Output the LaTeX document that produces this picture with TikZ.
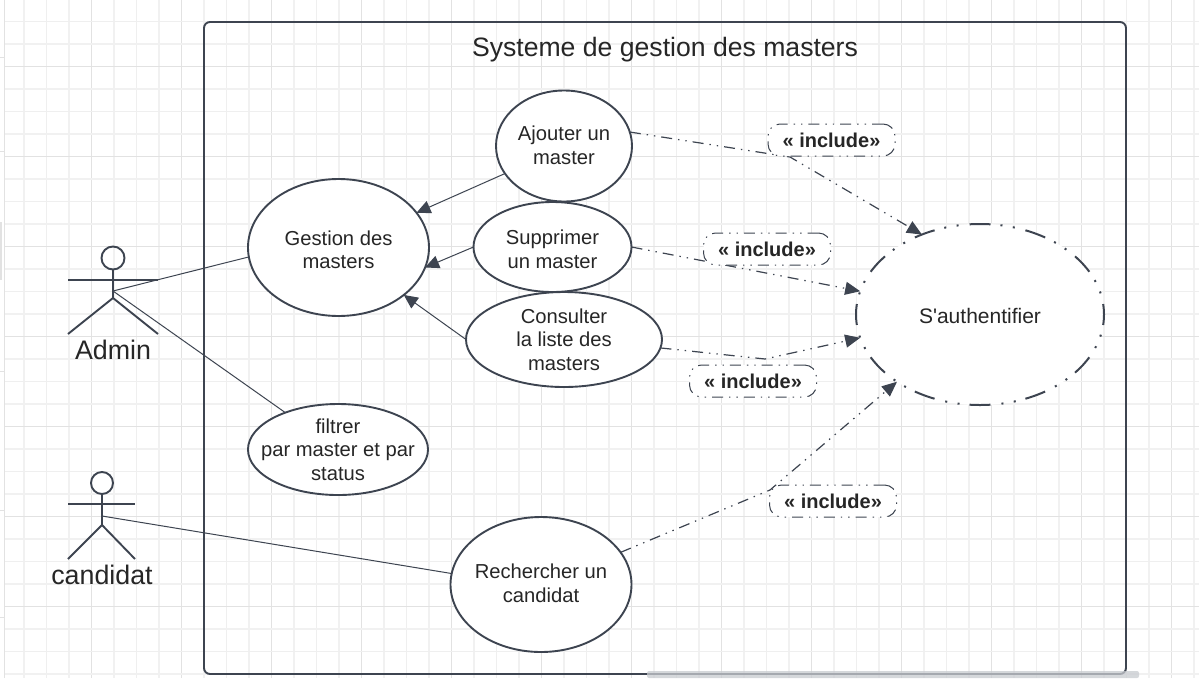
\documentclass[tikz,border=0pt]{standalone}
\usepackage{fontspec}
\setmainfont{Liberation Sans}
\newfontfamily\straightfont{Liberation Sans}
\usetikzlibrary{shapes.geometric,arrows.meta}
\definecolor{ink}{HTML}{3D4450}
\definecolor{gridthin}{HTML}{EFEFEF}
\definecolor{gridthick}{HTML}{F1F1F1}
\definecolor{griddark}{HTML}{E2E2E2}
\definecolor{scrollbar}{HTML}{C8CBD0}
\newcommand{\padtop}[1]{\rule{0pt}{#1pt}}
\newcommand{\padbot}[1]{\rule[-#1pt]{0pt}{0pt}}
\tikzset{
  usecase/.style={draw=ink,fill=white,ellipse,line width=1.9pt,inner xsep=-30pt,inner ysep=-12pt,outer sep=0pt,align=center,
    font=\fontsize{20.2}{23.7}\selectfont,text=black!85},
  ddot/.style={dash pattern=on 11pt off 6pt on 1.4pt off 6pt on 1.4pt off 6pt},
  authcase/.style={usecase,line width=2pt,dash pattern=on 21pt off 11pt on 2pt off 10.5pt on 2pt off 10pt,dash phase=10.5pt,
    font=\fontsize{21}{24}\selectfont},
  plain/.style={draw=ink,line width=1pt},
  assoc/.style={plain,-{Triangle[length=14pt,width=13pt]}},
  incl/.style={draw=ink,line width=1.2pt,ddot,-{Triangle[length=15pt,width=13pt]}},
  inclabel/.style={draw=ink,fill=white,rounded corners=12pt,line width=1pt,ddot,minimum width=127pt,minimum height=32pt,
    inner sep=0pt,font=\fontsize{20}{24}\selectfont\bfseries,text=black!85},
  limb/.style={draw=ink,line width=1.9pt},
  actorname/.style={font=\fontsize{26.8}{30}\selectfont,text=black!85,inner sep=0pt},
  headc/.style={draw=ink,circle,line width=1.9pt,minimum size=23pt,inner sep=0pt,outer sep=0pt},
}
\begin{document}
\begin{tikzpicture}[x=1pt,y=-1pt]
\useasboundingbox (0,0) rectangle (1199,678);
\fill[white] (0,0) rectangle (1199,678);
% background grid
\foreach \k in {0,...,52}{
  \pgfmathsetmacro{\gx}{24+22.5*\k}
  \pgfmathtruncatemacro{\m}{mod(\k,4)}
  \ifnum\m=3\relax \draw[griddark,line width=1.1pt] (\gx,0) -- (\gx,678);
  \else\ifnum\m=1\relax \draw[gridthin,line width=1pt] (\gx,0) -- (\gx,678);
  \else \draw[gridthick,line width=2pt] (\gx,0) -- (\gx,678);\fi\fi
}
\foreach \k in {0,...,29}{
  \pgfmathsetmacro{\gy}{21.7+22.5*\k}
  \pgfmathtruncatemacro{\m}{mod(\k,4)}
  \ifnum\m=2\relax \draw[griddark,line width=1.1pt] (5,\gy) -- (1199,\gy);
  \else\ifnum\m=0\relax \draw[gridthin,line width=1pt] (5,\gy) -- (1199,\gy);
  \else \draw[gridthick,line width=2pt] (5,\gy) -- (1199,\gy);\fi\fi
}
\draw[griddark,line width=1pt] (4.7,0) -- (4.7,678);
\foreach \ty in {57,151,371,510,617}{\draw[griddark,line width=1pt] (0,\ty) -- (4.7,\ty);}
\fill[griddark] (0,222) rectangle (1.5,280);
% system boundary
\node[draw=ink,line width=1.9pt,rounded corners=6pt,minimum width=922pt,minimum height=652pt,inner sep=0pt,outer sep=0pt,anchor=north west] (sys) at (204,22) {};
\node[font=\fontsize{26.6}{30}\selectfont,text=black!85,inner sep=0pt] (title) at (665,50) {Systeme de gestion des masters};
% use cases
\node[usecase,minimum width=136pt,minimum height=111pt] (ajouter) at (564,146) {Ajouter un\\master\padbot{2}};
\node[usecase,minimum width=181pt,minimum height=137pt] (gestion) at (338.5,247.5) {\padtop{19}Gestion des\\masters};
\node[usecase,minimum width=158pt,minimum height=90pt] (supprimer) at (552.5,247) {\padtop{18.5}Supprimer\\un master};
\node[usecase,minimum width=196pt,minimum height=95pt] (consulter) at (564,339.5) {Consulter\\la liste des\\masters};
\node[usecase,minimum width=180pt,minimum height=91pt] (filtrer) at (338,449.5) {filtrer\\par master et par\\status};
\node[usecase,minimum width=181pt,minimum height=135pt] (rechercher) at (541,584.5) {Rechercher un\\candidat\padbot{3}};
\node[usecase,authcase,minimum width=248pt,minimum height=181pt] (auth) at (980,314.5) {\straightfont\padtop{18}S'authentifier};
% actors
\node[headc] (adminhead) at (113,258) {};
\coordinate (adminhip) at (113,298);
\coordinate (adminhub) at (113,291);
\coordinate (adminL) at (68,280);
\coordinate (adminR) at (158,280);
\coordinate (adminFL) at (68,334);
\coordinate (adminFR) at (158,334);
\draw[limb] (adminhead.south) -- (adminhip);
\draw[limb] (adminL) -- (adminR);
\draw[limb] (adminFL) -- (adminhip) -- (adminFR);
\node[actorname] (adminname) at (113,350) {Admin};
\node[headc,minimum size=22pt] (candhead) at (102,483) {};
\coordinate (candhip) at (102,525);
\coordinate (candhub) at (102,516);
\coordinate (candL) at (68,504);
\coordinate (candR) at (135,504);
\coordinate (candFL) at (68,559);
\coordinate (candFR) at (135,559);
\draw[limb] (candhead.south) -- (candhip);
\draw[limb] (candL) -- (candR);
\draw[limb] (candFL) -- (candhip) -- (candFR);
\node[actorname] (candname) at (102,575) {candidat};
% associations
\draw[plain] (adminhub) -- (gestion.186.8);
\draw[plain] (adminhub) -- (filtrer.145.2);
\draw[plain] (candhub) -- (rechercher.173.3);
\draw[assoc] (ajouter.205.3) -- (gestion.24.7);
\draw[assoc] (supprimer.west) -- (gestion.-13.3);
\draw[assoc] (consulter.west) -- (gestion.-36.4);
% includes
\coordinate (bendA) at (790,157);
\coordinate (bendC) at (765,359);
\coordinate (bendD) at (770,490);
\draw[incl] (ajouter.12.4) -- (bendA) -- (auth.126.7);
\draw[incl] (supprimer.east) -- (auth.169.8);
\draw[incl] (consulter.-5.65) -- (bendC) -- (auth.191.3);
\draw[incl] (rechercher.22) -- (bendD) -- (auth.219.9);
\node[inclabel] (l1) at (831.5,140) {« include»};
\node[inclabel] (l2) at (767,249) {« include»};
\node[inclabel] (l3) at (753,381) {« include»};
\node[inclabel] (l4) at (833,501) {« include»};
% scrollbar of the captured window
\fill[scrollbar,opacity=.75,rounded corners=2pt] (647,671) rectangle (1139,678);
\end{tikzpicture}
\end{document}
